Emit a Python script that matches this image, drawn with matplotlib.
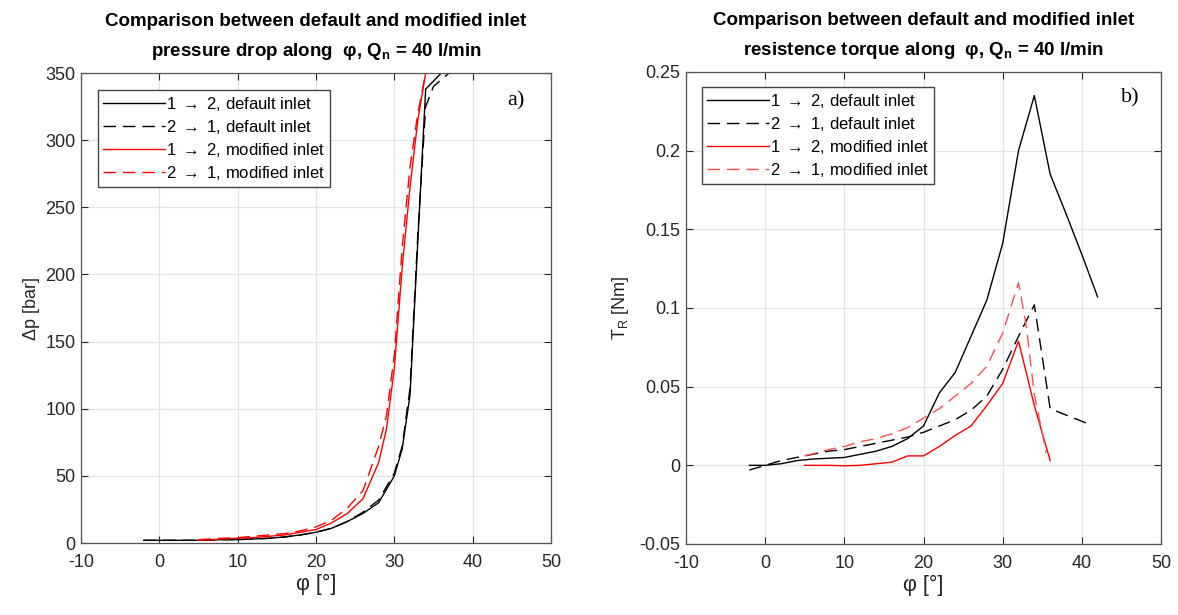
import matplotlib
matplotlib.use("Agg")
import matplotlib.pyplot as plt

plt.rcParams['font.family'] = ['Liberation Sans', 'DejaVu Sans']
plt.rcParams['mathtext.fontset'] = 'custom'
plt.rcParams['mathtext.rm'] = 'Liberation Sans'
plt.rcParams['mathtext.it'] = 'Liberation Sans'
plt.rcParams['mathtext.bf'] = 'Liberation Sans:bold'
plt.rcParams['axes.unicode_minus'] = False

# ---------------- data: pressure drop (left) ----------------
phi_def12_dp = [-2, 0, 2, 4, 6, 8, 10, 12, 14, 16, 18, 20, 22, 24, 26, 28, 30, 31, 32, 33, 34, 36, 38]
dp_def12 = [2, 2, 2, 2, 2, 2.5, 2.5, 3, 3.5, 4.5, 6, 8, 11, 16, 22, 30, 50, 70, 110, 225, 338, 350, 350]
phi_def21_dp = [-2, 0, 2, 4, 6, 8, 10, 12, 14, 16, 18, 20, 22, 24, 26, 28, 30, 31, 32, 33, 34, 35, 37]
dp_def21 = [2, 2, 2, 2, 2, 2.5, 2.5, 3, 3.5, 4.5, 6, 8, 11, 16, 23, 32, 52, 72, 115, 230, 325, 340, 350]
phi_mod12_dp = [5, 8, 10, 12, 14, 16, 18, 20, 22, 24, 26, 28, 29, 30, 31, 32, 33, 34, 35]
dp_mod12 = [2, 3, 3.5, 4, 5, 6, 8, 10, 15, 22, 33, 60, 85, 130, 205, 265, 315, 350, 350]
phi_mod21_dp = [5, 8, 10, 12, 14, 16, 18, 20, 22, 24, 26, 28, 29, 30, 31, 32, 33, 34, 35]
dp_mod21 = [2.5, 3.5, 4, 5, 6, 7, 9, 12, 17, 26, 39, 72, 95, 140, 220, 280, 320, 350, 350]

# ---------------- data: resistance torque (right) ----------------
phi_def12_t = [-2, 0, 2, 4, 6, 8, 10, 12, 14, 16, 18, 20, 22, 24, 26, 28, 30, 32, 34, 36, 38, 40, 42]
t_def12 = [0.0, 0.0, 0.001, 0.003, 0.004, 0.0045, 0.005, 0.007, 0.009, 0.012, 0.017, 0.025, 0.046, 0.059,
           0.082, 0.105, 0.141, 0.200, 0.235, 0.185, 0.160, 0.134, 0.107]
phi_def21_t = [-2, 0, 2, 4, 6, 8, 10, 12, 14, 16, 18, 20, 22, 24, 26, 28, 30, 32, 34, 36, 38, 41]
t_def21 = [-0.003, 0.0, 0.003, 0.005, 0.007, 0.009, 0.010, 0.012, 0.014, 0.016, 0.018, 0.021, 0.025, 0.029,
           0.035, 0.044, 0.061, 0.082, 0.102, 0.036, 0.032, 0.026]
phi_mod12_t = [5, 8, 10, 12, 14, 16, 18, 20, 22, 24, 26, 28, 30, 32, 34, 36]
t_mod12 = [0.0, 0.0, -0.0003, 0.0, 0.001, 0.002, 0.006, 0.006, 0.012, 0.019, 0.025, 0.038, 0.052, 0.079, 0.038, 0.003]
phi_mod21_t = [5, 8, 10, 12, 14, 16, 18, 20, 22, 24, 26, 28, 30, 32, 33, 34, 35.5]
t_mod21 = [0.006, 0.010, 0.012, 0.015, 0.017, 0.020, 0.024, 0.030, 0.036, 0.044, 0.052, 0.063, 0.084, 0.116, 0.088,
           0.045, 0.008]

x_ticks = [-10, 0, 10, 20, 30, 40, 50]
dp_ticks = [0, 50, 100, 150, 200, 250, 300, 350]
t_ticks = [-0.05, 0, 0.05, 0.1, 0.15, 0.2, 0.25]
t_ticklabels = ['-0.05', '0', '0.05', '0.1', '0.15', '0.2', '0.25']

labels = [r'1 $\longrightarrow$ 2, default inlet', r'2 $\longrightarrow$ 1, default inlet',
          r'1 $\longrightarrow$ 2, modified inlet', r'2 $\longrightarrow$ 1, modified inlet']
labels = [r'1 $\rightarrow$ 2, default inlet', r'2 $\rightarrow$ 1, default inlet',
          r'1 $\rightarrow$ 2, modified inlet', r'2 $\rightarrow$ 1, modified inlet']

fig = plt.figure(figsize=(11.78, 6.15), dpi=100)
ax1 = fig.add_axes([81/1178, 1-543/615, 470/1178, 470/615])
ax2 = fig.add_axes([686/1178, 1-544/615, 475/1178, 472/615])

axcol = '#262626'
dash = (0, (9, 5))


def style(ax):
    ax.grid(True, color='#e3e3e3', linewidth=0.9)
    ax.set_axisbelow(True)
    ax.tick_params(direction='in', top=True, right=True, labelsize=13, colors=axcol,
                   length=5, width=0.8)
    ax.tick_params(axis='x', pad=8)
    ax.tick_params(axis='y', pad=4)
    for s in ax.spines.values():
        s.set_color('#555555')
        s.set_linewidth(0.9)
    ax.set_xlim(-10, 50)
    ax.set_xticks(x_ticks)
    ax.set_xlabel('φ [°]', fontsize=15.5, color=axcol, labelpad=2)


title_kw = dict(fontsize=13.5, fontweight='bold', pad=12, linespacing=1.75)
leg_kw = dict(loc='upper left', borderaxespad=0, fontsize=12, handlelength=3.7, handletextpad=0.1,
              labelspacing=0.3, fancybox=False, framealpha=1, borderpad=0.3)

# left
ax1.plot(phi_def12_dp, dp_def12, color='k', lw=1.0, label=labels[0])
ax1.plot(phi_def21_dp, dp_def21, color='k', lw=1.0, linestyle=dash, label=labels[1])
ax1.plot(phi_mod12_dp, dp_mod12, color='red', lw=1.0, label=labels[2])
ax1.plot(phi_mod21_dp, dp_mod21, color='red', lw=1.0, linestyle=dash, label=labels[3])
style(ax1)
ax1.set_ylim(0, 350)
ax1.set_yticks(dp_ticks)
ax1.set_ylabel('Δp [bar]', fontsize=13, color=axcol, labelpad=4)
ax1.set_title('Comparison between default and modified inlet\n'
              r'pressure drop along  φ, Q$_{\mathbf{n}}$ = 40 l/min', **title_kw)
leg1 = ax1.legend(bbox_to_anchor=(0.036, 0.964), **leg_kw)
leg1.get_frame().set_edgecolor('#444444')
leg1.get_frame().set_linewidth(1.0)
ax1.text(0.925, 0.94, 'a)', transform=ax1.transAxes, fontsize=16,
         family='Liberation Serif', ha='center', va='center')

# right
ax2.plot(phi_def12_t, t_def12, color='k', lw=1.0, label=labels[0])
ax2.plot(phi_def21_t, t_def21, color='k', lw=1.0, linestyle=dash, label=labels[1])
ax2.plot(phi_mod12_t, t_mod12, color='red', lw=1.0, label=labels[2])
ax2.plot(phi_mod21_t, t_mod21, color='#ff5050', lw=1.0, linestyle=dash, label=labels[3])
style(ax2)
ax2.set_ylim(-0.05, 0.25)
ax2.set_yticks(t_ticks)
ax2.set_yticklabels(t_ticklabels)
ax2.set_ylabel(r'T$_\mathregular{R}$ [Nm]', fontsize=13, color=axcol, labelpad=6)
ax2.set_title('Comparison between default and modified inlet\n'
              r'resistence torque along  φ, Q$_{\mathbf{n}}$ = 40 l/min', **title_kw)
leg2 = ax2.legend(bbox_to_anchor=(0.034, 0.968), **leg_kw)
leg2.get_frame().set_edgecolor('#444444')
leg2.get_frame().set_linewidth(1.0)
ax2.text(0.935, 0.945, 'b)', transform=ax2.transAxes, fontsize=16,
         family='Liberation Serif', ha='center', va='center')

fig.savefig('out.png', dpi=100)
